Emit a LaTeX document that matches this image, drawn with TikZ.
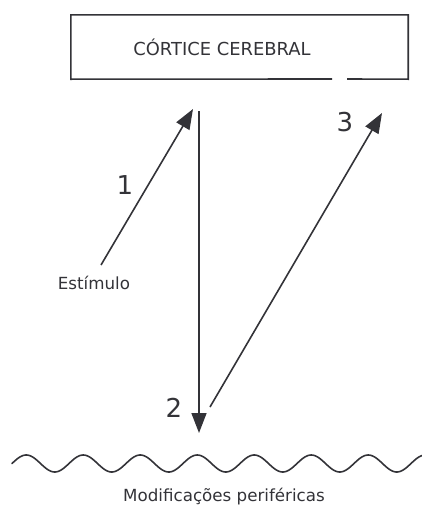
\documentclass[tikz,border=0pt]{standalone}
\usepackage{fontspec}
\setmainfont{DejaVu Sans}
\usetikzlibrary{arrows.meta}
\definecolor{ink}{HTML}{333338}
\tikzset{
  line/.style={draw=ink, line width=1.6pt},
  arr/.style={line, -{Triangle[length=20pt,width=15pt]}},
  lbl/.style={text=ink, inner sep=0pt, font=\fontsize{16.7}{19}\selectfont},
  num/.style={text=ink, inner sep=0pt, font=\fontsize{26}{30}\selectfont},
  ttl/.style={text=ink, inner sep=0pt, font=\fontsize{17.9}{21}\selectfont},
}
\begin{document}
\begin{tikzpicture}[x=1pt,y=-1pt]
\useasboundingbox (0,0) rectangle (422,506);
% cortex box
\node[minimum width=337pt, minimum height=64pt, inner sep=0pt] (box) at (239.5,47) {};
\node[ttl] (title) at (222,47) {CÓRTICE CEREBRAL};
\draw[line] (332,79) -- (box.south west) -- (box.north west) -- (box.north east) -- (box.south east) -- (347,79);
% points
\coordinate (stim) at (101,265);
\coordinate (c1) at (193,109);
\coordinate (c2top) at (199,111);
\coordinate (c2bot) at (199,433);
\coordinate (p3) at (210,407);
\coordinate (c3) at (382,113);
\draw[arr] (stim) -- (c1);
\draw[arr] (c2top) -- (c2bot);
\draw[arr] (p3) -- (c3);
% labels
\node[lbl] (est) at (94,283) {Estímulo};
\node[num] (n1) at (125,185) {1};
\node[num] (n2) at (174,408) {2};
\node[num] (n3) at (345,122) {3};
% wave
\draw[line, line cap=round] plot[domain=12:422, samples=300, smooth] (\x, {463.5 - 8.5*sin(((\x-12)/57)*360)});
\node[lbl] (mod) at (224,497) {Modificações periféricas};
\end{tikzpicture}
\end{document}
